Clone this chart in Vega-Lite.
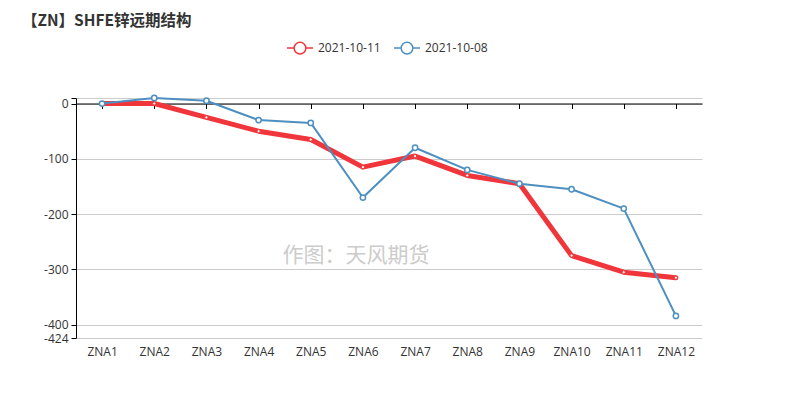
{
  "$schema": "https://vega.github.io/schema/vega-lite/v6.json",
  "width": 626,
  "height": 240,
  "autosize": {"type": "none"},
  "padding": {"left": 76, "top": 98, "right": 87, "bottom": 58},
  "background": "white",
  "title": {"text": "【ZN】SHFE锌远期结构", "anchor": "start", "frame": "group", "dx": -54, "offset": 5, "fontSize": 15.5, "fontWeight": "bold", "color": "#333333", "font": "Noto Sans CJK SC"},
  "config": {"view": {"stroke": null}, "font": "Open Sans"},
  "data": {"values": [
    {"contract": "ZNA1", "series": "2021-10-11", "value": 0},
    {"contract": "ZNA2", "series": "2021-10-11", "value": 0},
    {"contract": "ZNA3", "series": "2021-10-11", "value": -25},
    {"contract": "ZNA4", "series": "2021-10-11", "value": -50},
    {"contract": "ZNA5", "series": "2021-10-11", "value": -65},
    {"contract": "ZNA6", "series": "2021-10-11", "value": -115},
    {"contract": "ZNA7", "series": "2021-10-11", "value": -95},
    {"contract": "ZNA8", "series": "2021-10-11", "value": -130},
    {"contract": "ZNA9", "series": "2021-10-11", "value": -145},
    {"contract": "ZNA10", "series": "2021-10-11", "value": -275},
    {"contract": "ZNA11", "series": "2021-10-11", "value": -305},
    {"contract": "ZNA12", "series": "2021-10-11", "value": -315},
    {"contract": "ZNA1", "series": "2021-10-08", "value": 0},
    {"contract": "ZNA2", "series": "2021-10-08", "value": 10},
    {"contract": "ZNA3", "series": "2021-10-08", "value": 5},
    {"contract": "ZNA4", "series": "2021-10-08", "value": -30},
    {"contract": "ZNA5", "series": "2021-10-08", "value": -35},
    {"contract": "ZNA6", "series": "2021-10-08", "value": -170},
    {"contract": "ZNA7", "series": "2021-10-08", "value": -80},
    {"contract": "ZNA8", "series": "2021-10-08", "value": -120},
    {"contract": "ZNA9", "series": "2021-10-08", "value": -145},
    {"contract": "ZNA10", "series": "2021-10-08", "value": -155},
    {"contract": "ZNA11", "series": "2021-10-08", "value": -190},
    {"contract": "ZNA12", "series": "2021-10-08", "value": -384}
  ]},
  "layer": [
    {
      "transform": [{"filter": "datum.series == '2021-10-11'"}],
      "mark": {"type": "line", "strokeWidth": 5, "strokeJoin": "round", "strokeCap": "round"},
      "encoding": {
        "x": {"field": "contract", "type": "nominal", "sort": ["ZNA1","ZNA2","ZNA3","ZNA4","ZNA5","ZNA6","ZNA7","ZNA8","ZNA9","ZNA10","ZNA11","ZNA12"], "scale": {"type": "point", "padding": 0.5},
          "axis": {"orient": "bottom", "title": null, "labelAngle": 0, "domain": false, "ticks": false, "labelPadding": 8, "labelFontSize": 12, "labelColor": "#333333", "grid": false}},
        "y": {"field": "value", "type": "quantitative", "scale": {"domain": [-424, 10], "nice": false, "zero": false},
          "axis": {"title": null, "values": [10, 0, -100, -200, -300, -400, -424], "tickCount": 20, "labelExpr": "datum.value == 10 ? '' : '' + datum.value", "labelOverlap": false, "grid": true, "gridColor": "#cccccc", "domainColor": "#000000", "tickColor": "#000000", "tickSize": 5, "labelFontSize": 12, "labelColor": "#333333", "labelPadding": 3}},
        "color": {"field": "series", "type": "nominal", "scale": {"domain": ["2021-10-11", "2021-10-08"], "range": ["#f0353b", "#4d8fc0"]},
          "legend": {"orient": "none", "legendX": 210, "legendY": -64, "direction": "horizontal", "title": null,
            "symbolType": "M-1,0H-0.45M0.45,0H1M0.45,0A0.45,0.45 0 1 1 -0.45,0A0.45,0.45 0 1 1 0.45,0",
            "symbolSize": 676, "symbolStrokeWidth": 1.5, "symbolFillColor": "white", "labelFontSize": 12, "labelColor": "#333333", "columnPadding": 10}}
      }
    },
    {
      "transform": [{"filter": "datum.series == '2021-10-11'"}],
      "mark": {"type": "point", "filled": true, "fill": "white", "strokeWidth": 1, "size": 10, "opacity": 1},
      "encoding": {
        "x": {"field": "contract", "type": "nominal", "sort": ["ZNA1","ZNA2","ZNA3","ZNA4","ZNA5","ZNA6","ZNA7","ZNA8","ZNA9","ZNA10","ZNA11","ZNA12"],
          "axis": {"orient": "top", "offset": -5.5, "title": null, "labels": false, "domainColor": "#000000", "tickColor": "#000000", "tickSize": -5, "grid": false}},
        "y": {"field": "value", "type": "quantitative"},
        "stroke": {"field": "series", "type": "nominal", "scale": {"domain": ["2021-10-11", "2021-10-08"], "range": ["#f0353b", "#4d8fc0"]}, "legend": null}
      }
    },
    {
      "transform": [{"filter": "datum.series == '2021-10-08'"}],
      "mark": {"type": "line", "strokeWidth": 2, "strokeJoin": "round"},
      "encoding": {
        "x": {"field": "contract", "type": "nominal", "sort": ["ZNA1","ZNA2","ZNA3","ZNA4","ZNA5","ZNA6","ZNA7","ZNA8","ZNA9","ZNA10","ZNA11","ZNA12"], "axis": null},
        "y": {"field": "value", "type": "quantitative"},
        "color": {"field": "series", "type": "nominal"}
      }
    },
    {
      "transform": [{"filter": "datum.series == '2021-10-08'"}],
      "mark": {"type": "point", "filled": true, "fill": "white", "strokeWidth": 1.5, "size": 28, "opacity": 1},
      "encoding": {
        "x": {"field": "contract", "type": "nominal", "sort": ["ZNA1","ZNA2","ZNA3","ZNA4","ZNA5","ZNA6","ZNA7","ZNA8","ZNA9","ZNA10","ZNA11","ZNA12"], "axis": null},
        "y": {"field": "value", "type": "quantitative"},
        "stroke": {"field": "series", "type": "nominal", "legend": null}
      }
    },
    {
      "data": {"values": [{"label": "作图：天风期货"}]},
      "mark": {"type": "text", "font": "Noto Sans CJK SC", "fontSize": 21, "color": "#cccccc", "dx": -7},
      "encoding": {
        "x": {"datum": "ZNA6", "axis": null},
        "y": {"datum": -275, "type": "quantitative"},
        "text": {"field": "label"}
      }
    }
  ],
  "resolve": {"axis": {"x": "independent"}}
}
